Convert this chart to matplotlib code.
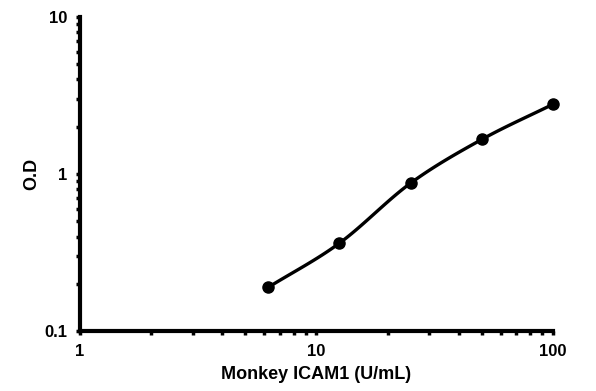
import numpy as np
import matplotlib
matplotlib.use("Agg")
import matplotlib.pyplot as plt
from matplotlib.ticker import LogLocator, FixedLocator, FixedFormatter, NullFormatter

conc = [6.25, 12.5, 25, 50, 100]
od = [0.19, 0.363, 0.875, 1.66, 2.78]
xticks = [1, 10, 100]
xticklabels = ["1", "10", "100"]
yticks = [0.1, 1, 10]
yticklabels = ["0.1", "1", "10"]

plt.rcParams['font.family'] = ['Liberation Sans', 'DejaVu Sans']
fig = plt.figure(figsize=(5.96, 3.91), dpi=100)
ax = fig.add_axes([0.134, 0.153, 0.794, 0.804])
ax.set_xscale('log')
ax.set_yscale('log')

# smooth curve (Catmull-Rom in log space) through the points
lx = np.log10(conc); ly = np.log10(od)
px = np.concatenate([[2*lx[0]-lx[1]], lx, [2*lx[-1]-lx[-2]]])
py = np.concatenate([[2*ly[0]-ly[1]], ly, [2*ly[-1]-ly[-2]]])
cx, cy = [], []
t = np.linspace(0, 1, 30)
for i in range(1, len(px)-2):
    for arr, out in ((px, cx), (py, cy)):
        p0, p1, p2, p3 = arr[i-1], arr[i], arr[i+1], arr[i+2]
        out.extend(0.5*((2*p1) + (-p0+p2)*t + (2*p0-5*p1+4*p2-p3)*t**2 + (-p0+3*p1-3*p2+p3)*t**3))
ax.plot(10**np.array(cx), 10**np.array(cy), color='black', lw=2.4, solid_capstyle='round')
ax.plot(conc, od, 'o', color='black', ms=8, clip_on=False)

ax.set_xlim(1, 100)
ax.set_ylim(0.1, 10)
for s in ['top', 'right']:
    ax.spines[s].set_visible(False)
for s in ['left', 'bottom']:
    ax.spines[s].set_linewidth(3)
ax.xaxis.set_major_locator(FixedLocator(xticks))
ax.xaxis.set_major_formatter(FixedFormatter(xticklabels))
ax.yaxis.set_major_locator(FixedLocator(yticks))
ax.yaxis.set_major_formatter(FixedFormatter(yticklabels))
ax.xaxis.set_minor_locator(LogLocator(base=10, subs=np.arange(2, 10)))
ax.yaxis.set_minor_locator(LogLocator(base=10, subs=np.arange(2, 10)))
ax.xaxis.set_minor_formatter(NullFormatter())
ax.yaxis.set_minor_formatter(NullFormatter())
ax.tick_params(which='both', direction='out', length=3, width=2.5, color='black')
ax.tick_params(axis='both', which='major', labelsize=12, pad=6)
for lab in ax.get_xticklabels() + ax.get_yticklabels():
    lab.set_fontweight('bold')
ax.set_xlabel('Monkey ICAM1 (U/mL)', fontsize=13, fontweight='bold', labelpad=5)
ax.set_ylabel('O.D', fontsize=13, fontweight='bold', labelpad=3)
fig.savefig('out.png', dpi=100)
